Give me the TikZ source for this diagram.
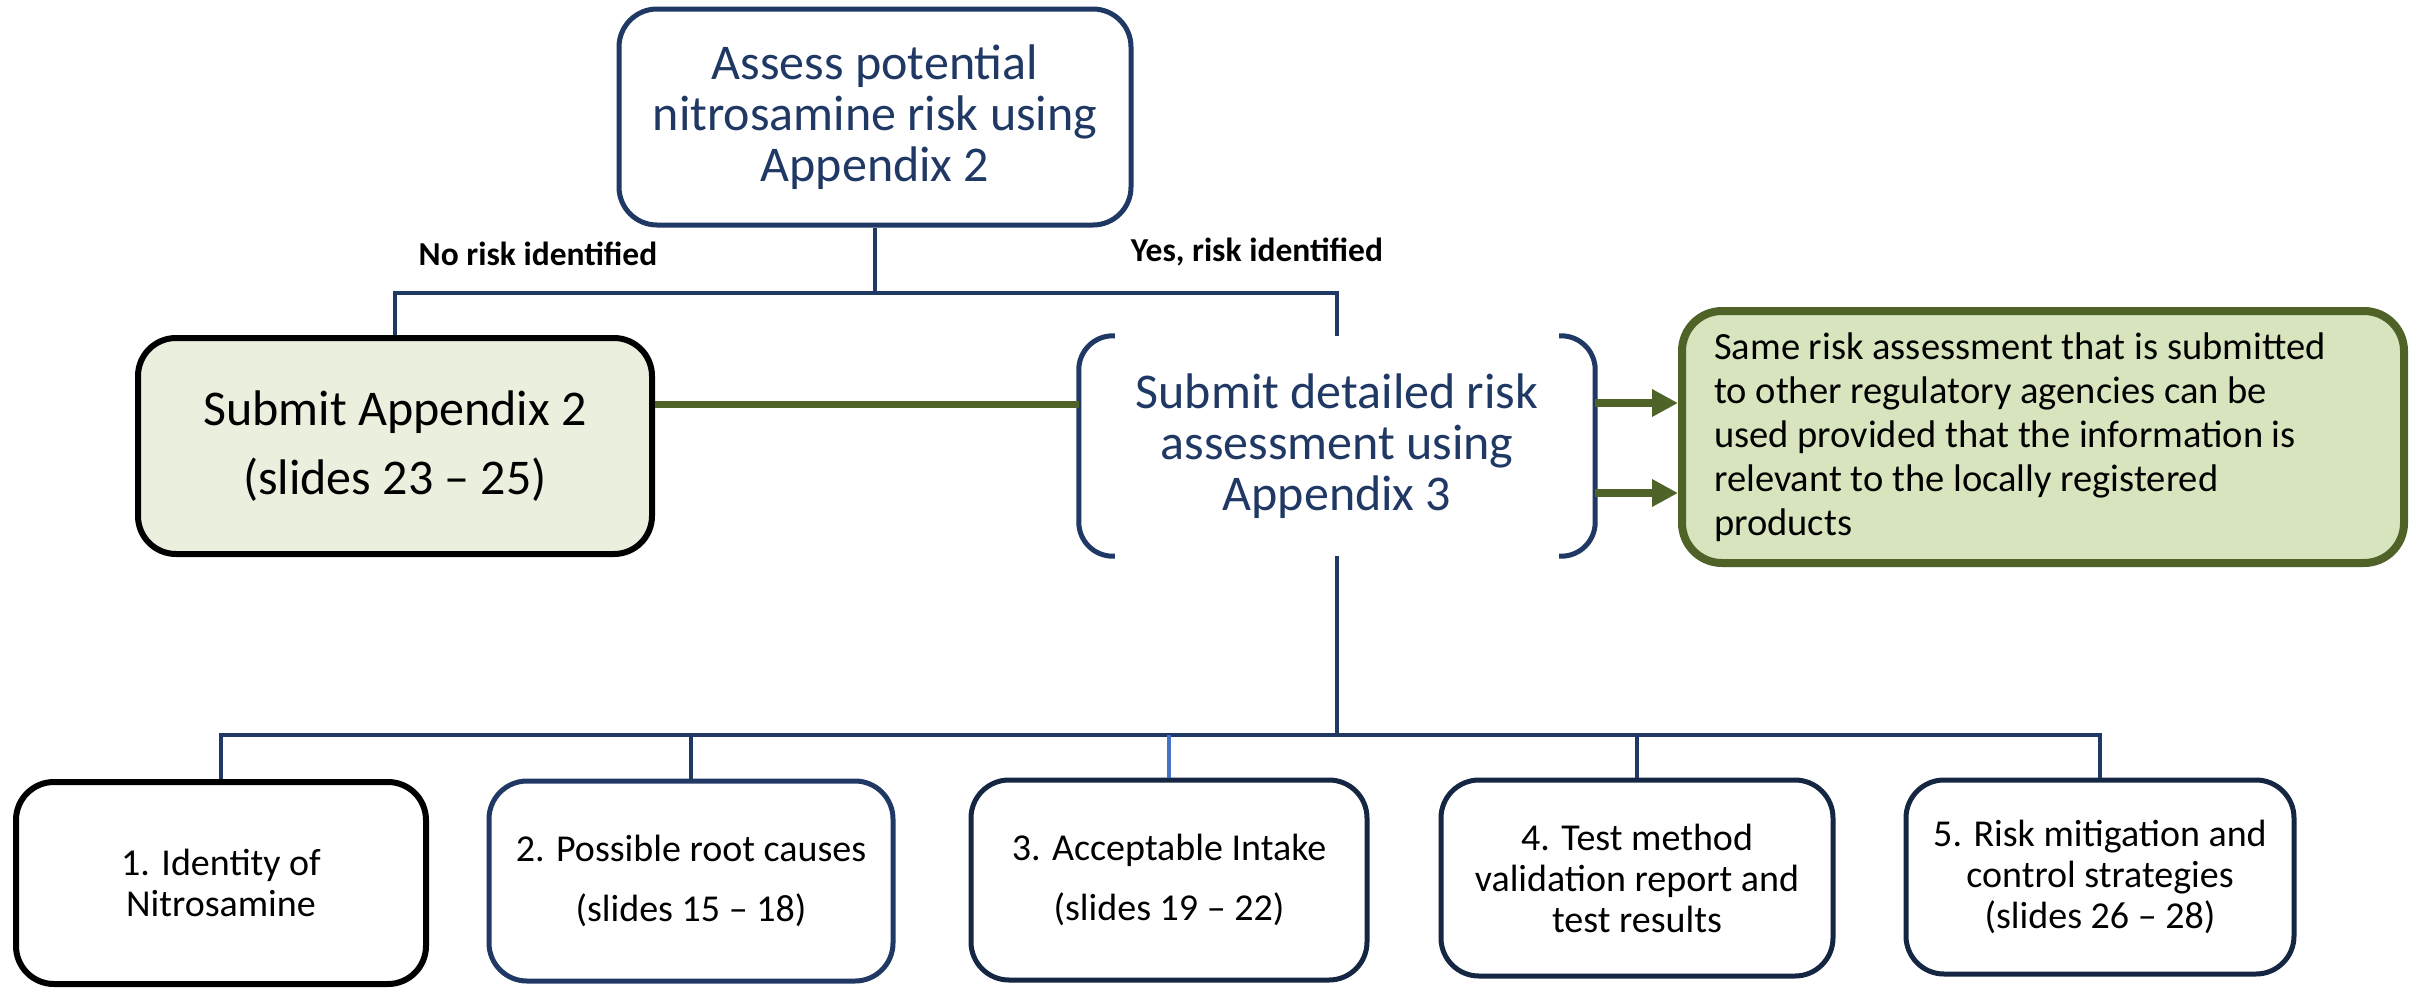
\documentclass[tikz,border=0pt]{standalone}
\usepackage{fontspec}
\setmainfont{Carlito}
\usetikzlibrary{arrows.meta}
\definecolor{navy}{HTML}{1F3864}
\definecolor{darknavy}{HTML}{152642}
\definecolor{olive}{HTML}{4F6228}
\definecolor{lgreen}{HTML}{D7E4BD}
\definecolor{pgreen}{HTML}{EBEFDE}
\definecolor{midblue}{HTML}{4472C4}
\begin{document}
\begin{tikzpicture}[x=1pt,y=-1pt,
  conn/.style={draw=navy,line width=4.5pt},
  roundbox/.style={rounded corners=38pt,line width=5pt,align=center,inner sep=0pt,fill=white},
  bigtext/.style={font=\fontsize{50}{51}\selectfont,text=navy},
  smalltext/.style={font=\fontsize{38}{41}\selectfont,text=black},
  lab/.style={font=\bfseries\fontsize{33.5}{36}\selectfont,text=black},
  greenarrow/.style={draw=olive,line width=8pt,-{Triangle[length=26pt,width=26pt]}}
]
\useasboundingbox[fill=white] (0,0) rectangle (2410,989);

% nodes
\node[roundbox,bigtext,draw=navy,minimum width=512pt,minimum height=216pt] (top) at (875,117)
  {Assess potential\\nitrosamine risk using\\Appendix 2};
\node[roundbox,draw=black,line width=6pt,fill=pgreen,minimum width=514pt,minimum height=216pt,
  font=\fontsize{50}{69}\selectfont,text=black] (a2) at (395,446)
  {Submit Appendix 2\\(slides 23 – 25)};
\node[inner sep=0pt,align=center,bigtext,minimum width=516pt,minimum height=220pt] (br) at (1337,446)
  {Submit detailed risk\\assessment using\\Appendix 3};
\node[draw=olive,fill=lgreen,line width=8pt,rounded corners=40pt,minimum width=722pt,minimum height=252pt] (gb) at (2043,437) {};
\node[anchor=west,inner sep=0pt,align=left,font=\fontsize{38.5}{44}\selectfont,text=black] (gbt) at ([xshift=36pt]gb.west)
  {Same risk assessment that is submitted\\to other regulatory agencies can be\\used provided that the information is\\relevant to the locally registered\\products};

\node[lab] (nolab) at (538,254) {No risk identified};
\node[lab] (yeslab) at (1257,252) {Yes, risk identified};

% tree connectors
\coordinate (j1) at (875,293);
\coordinate (j2) at (1337,735);
\draw[conn] (top.south) -- (j1);
\draw[conn] (a2.north) |- (j1) -| (br.north);

% brackets
\draw[navy,line width=5pt,rounded corners=34pt] ([xshift=36pt]br.north west) -- (br.north west) -- (br.south west) -- ([xshift=36pt]br.south west);
\draw[navy,line width=5pt,rounded corners=34pt] ([xshift=-36pt]br.north east) -- (br.north east) -- (br.south east) -- ([xshift=-36pt]br.south east);

% green connectors
\draw[draw=olive,line width=7pt] ([yshift=42pt]a2.east) -- ([yshift=42pt]a2.east -| br.west);
\draw[greenarrow] ([yshift=43pt]br.east) -- ([yshift=43pt]br.east -| gb.west);
\draw[greenarrow] ([yshift=-47pt]br.east) -- ([yshift=-47pt]br.east -| gb.west);

% bottom boxes
\node[roundbox,smalltext,draw=black,line width=6pt,minimum width=410pt,minimum height=202pt] (b1) at (221,883)
  {1. Identity of\\Nitrosamine};
\node[roundbox,smalltext,draw=navy,minimum width=404pt,minimum height=200pt] (b2) at (691,881)
  {2. Possible root causes\\[19pt](slides 15 – 18)};
\node[roundbox,smalltext,draw=darknavy,minimum width=396pt,minimum height=200pt] (b3) at (1169,880)
  {3. Acceptable Intake\\[19pt](slides 19 – 22)};
\node[roundbox,smalltext,draw=darknavy,minimum width=392pt,minimum height=196pt] (b4) at (1637,878)
  {4. Test method\\validation report and\\test results};
\node[roundbox,smalltext,draw=darknavy,minimum width=388pt,minimum height=194pt] (b5) at (2100,877)
  {5. Risk mitigation and\\control strategies\\(slides 26 – 28)};

\draw[conn] (br.south) -- (j2);
\draw[conn] (b1.north) |- (j2) -| (b5.north);
\draw[conn] (b2.north) -- (b2.north |- j2);
\draw[conn,draw=midblue,line width=3.5pt] (b3.north) -- (b3.north |- j2);
\draw[conn] (b4.north) -- (b4.north |- j2);
\end{tikzpicture}
\end{document}
